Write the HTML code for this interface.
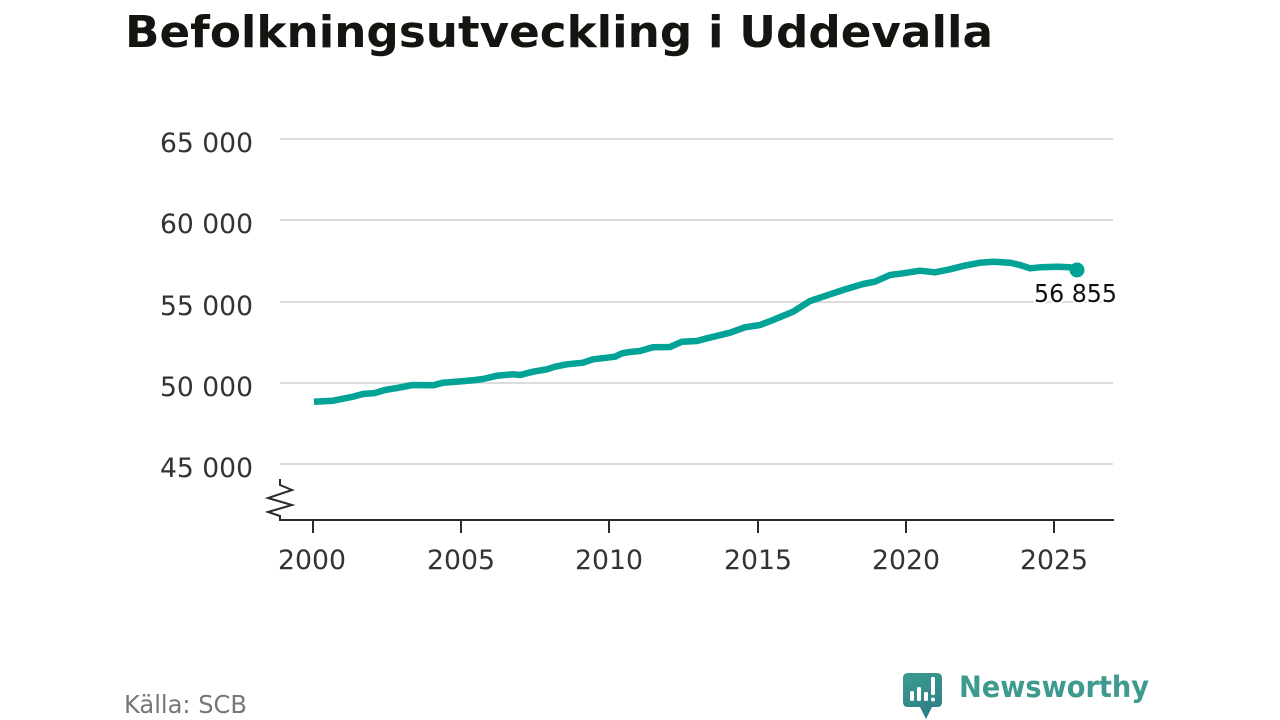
<!DOCTYPE html>
<html>
<head>
<meta charset="utf-8">
<style>
html,body{margin:0;padding:0;background:#fff;}
svg{display:block;}
text{font-family:"DejaVu Sans","Liberation Sans",sans-serif;}
</style>
</head>
<body>
<svg width="1280" height="720" viewBox="0 0 1280 720" xmlns="http://www.w3.org/2000/svg">
  <rect width="1280" height="720" fill="#fff"/>
  <!-- Title -->
  <text x="125" y="47" font-size="44" font-weight="bold" fill="#141410" textLength="868" lengthAdjust="spacingAndGlyphs">Befolkningsutveckling i Uddevalla</text>

  <!-- Gridlines -->
  <g stroke="#dcdcdc" stroke-width="2">
    <line x1="280" y1="139" x2="1113" y2="139"/>
    <line x1="280" y1="220" x2="1113" y2="220"/>
    <line x1="280" y1="302" x2="1113" y2="302"/>
    <line x1="280" y1="383" x2="1113" y2="383"/>
    <line x1="280" y1="464" x2="1113" y2="464"/>
  </g>

  <!-- Y labels -->
  <g font-size="27" fill="#333" text-anchor="end">
    <text x="253" y="152" textLength="93" lengthAdjust="spacingAndGlyphs">65 000</text>
    <text x="253" y="233" textLength="93" lengthAdjust="spacingAndGlyphs">60 000</text>
    <text x="253" y="315" textLength="93" lengthAdjust="spacingAndGlyphs">55 000</text>
    <text x="253" y="396" textLength="93" lengthAdjust="spacingAndGlyphs">50 000</text>
    <text x="253" y="477" textLength="93" lengthAdjust="spacingAndGlyphs">45 000</text>
  </g>

  <!-- Axis -->
  <g stroke="#2b2b2b" stroke-width="2" fill="none">
    <line x1="279" y1="520" x2="1114" y2="520"/>
    <polyline points="280,479 280,485 292,490 268,498 292,505 268,512 280,516 280,520"/>
    <line x1="313" y1="520" x2="313" y2="533"/>
    <line x1="461" y1="520" x2="461" y2="533"/>
    <line x1="609" y1="520" x2="609" y2="533"/>
    <line x1="758" y1="520" x2="758" y2="533"/>
    <line x1="906" y1="520" x2="906" y2="533"/>
    <line x1="1054" y1="520" x2="1054" y2="533"/>
  </g>

  <!-- X labels -->
  <g font-size="27" fill="#333" text-anchor="middle">
    <text x="312" y="569" textLength="68" lengthAdjust="spacingAndGlyphs">2000</text>
    <text x="461" y="569" textLength="68" lengthAdjust="spacingAndGlyphs">2005</text>
    <text x="609" y="569" textLength="68" lengthAdjust="spacingAndGlyphs">2010</text>
    <text x="758" y="569" textLength="68" lengthAdjust="spacingAndGlyphs">2015</text>
    <text x="906" y="569" textLength="68" lengthAdjust="spacingAndGlyphs">2020</text>
    <text x="1054" y="569" textLength="68" lengthAdjust="spacingAndGlyphs">2025</text>
  </g>

  <!-- Series -->
  <polyline fill="none" stroke="#00a396" stroke-width="6.5" stroke-linejoin="round" stroke-linecap="butt"
    points="314,401.7 333,400.7 353,396.7 363,394 375,393 385,390 397,388 413,385 433,385.3 443,382.7 465,381 475,380 483,379 497,375.7 513,374.3 520,375 533,371.7 547,369.3 555,366.7 567,364.3 583,362.7 593,359.3 607,357.7 615,356.7 622,353.3 630,352 640,351 653,347.3 670,347 682,341.7 697,341 707,338.3 730,332.7 745,327.3 760,325 773,320 793,311.7 810,301 823,296.7 843,290 863,284 875,281.7 890,275 903,273.3 920,270.7 935,272.3 950,269.3 963,266 980,262.7 993,261.7 1010,262.7 1020,265 1030,268.3 1040,267.3 1057,266.7 1070,267.3 1076,269"/>
  <circle cx="1077" cy="270" r="7.5" fill="#00a396"/>

  <!-- End label with halo -->
  <text x="1034" y="302" font-size="25" fill="#111" stroke="#fff" stroke-width="4" stroke-linejoin="round" paint-order="stroke" textLength="83" lengthAdjust="spacingAndGlyphs">56 855</text>

  <!-- Source -->
  <text x="124" y="713" font-size="25" fill="#777" textLength="123" lengthAdjust="spacingAndGlyphs">Källa: SCB</text>

  <!-- Logo -->
  <defs>
    <linearGradient id="lg" x1="0" y1="0" x2="0.4" y2="1">
      <stop offset="0" stop-color="#3c9d90"/>
      <stop offset="1" stop-color="#2e7f87"/>
    </linearGradient>
  </defs>
  <path d="M908,673 H937 Q942,673 942,678 V702 Q942,707 937,707 H932 L926,719 L920,707 H908 Q903,707 903,702 V678 Q903,673 908,673 Z" fill="url(#lg)"/>
  <g fill="#fff">
    <rect x="910" y="691" width="4" height="10" rx="1.5"/>
    <rect x="917" y="687" width="4" height="14" rx="1.5"/>
    <rect x="924" y="692" width="4" height="9" rx="1.5"/>
    <rect x="931" y="677" width="4" height="18" rx="1.5"/>
    <circle cx="933" cy="699.5" r="2"/>
  </g>
  <text x="959" y="697" font-size="29" font-weight="bold" fill="#3d9a8f" font-family="Liberation Sans, sans-serif" textLength="190" lengthAdjust="spacingAndGlyphs">Newsworthy</text>
</svg>
</body>
</html>
